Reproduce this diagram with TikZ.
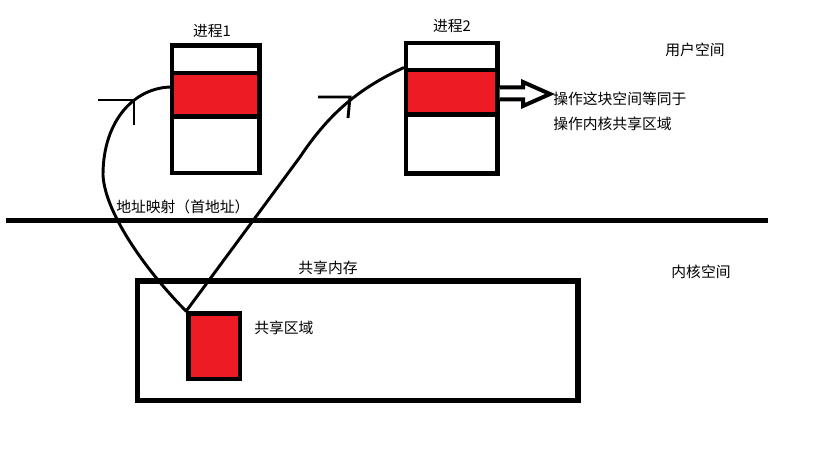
\documentclass[tikz,border=0pt]{standalone}
\usepackage{fontspec}
\newfontfamily\cjk{Noto Sans CJK SC}
\usetikzlibrary{fit}
\definecolor{pred}{HTML}{ED1C24}
\begin{document}
\begin{tikzpicture}[x=0.75pt,y=-0.75pt,
  box/.style={draw=black,line width=3.5pt,inner sep=0pt,fill=white},
  redbox/.style={draw=black,line width=3.5pt,inner sep=0pt,fill=pred},
  lbl/.style={font=\cjk\fontsize{11.1pt}{13pt}\selectfont,inner sep=0pt,text=black},
  link/.style={line width=2.2pt,line cap=round,line join=round},
  tickmark/.style={line width=2.2pt}
]
\useasboundingbox[fill=white] (0,0) rectangle (819,460);
% divider line
\coordinate (hl) at (6,220.5);
\coordinate (hr) at (768,220.5);
\draw[line width=3.6pt] (hl) -- (hr);
% process 1
\node[box,fit={(172,45.5) (259.5,173)}] (p1) {};
\node[redbox,fit={(172,73) (259.5,116.5)}] (p1r) {};
\node[lbl] (t1) at (212,31) {进程1};
% process 2
\node[box,fit={(406,43) (497.5,173.5)}] (p2) {};
\node[redbox,fit={(406,70) (497.5,114.5)}] (p2r) {};
\node[lbl] (t2) at (452,26) {进程2};
% shared memory
\node[box,line width=3.8pt,fit={(137.5,281) (578,400.5)}] (shm) {};
\node[lbl] (tshm) at (328,267.5) {共享内存};
\node[redbox,fit={(188.5,313.5) (240,379)}] (sr) {};
\node[lbl,anchor=west] (tsr) at (254,327.5) {共享区域};
% labels
\node[lbl] (us) at (695,50) {用户空间};
\node[lbl] (ks) at (701,272) {内核空间};
\node[lbl,anchor=west] (map) at (116,206.5) {地址映射（首地址）};
\node[lbl,anchor=west] (op1) at (553,98.5) {操作这块空间等同于};
\node[lbl,anchor=west] (op2) at (553,124) {操作内核共享区域};
% block arrow from process 2
\coordinate (a0) at (499.5,87.5);
\draw[line width=3pt,line join=miter,fill=white]
  (a0) -- (523,87.5) -- (523,82) -- (550,94) -- (523,106) -- (523,99.5) -- (499.5,99.5);
% mapping curves
\coordinate (c1s) at (172,87);
\draw[link] (c1s) .. controls (135,87) and (103,120) .. (103,175)
  .. controls (105,215) and (150,275) .. (sr.north west);
\draw[link] (sr.north west) -- (300,157)
  .. controls (330,112) and (360,88) .. (p2r.north west);
% hand-drawn arrow marks
\draw[tickmark] (98,100) -- (134,100) -- (134,125);
\draw[tickmark] (318,97) -- (350,97) -- (348,118);
\end{tikzpicture}
\end{document}
